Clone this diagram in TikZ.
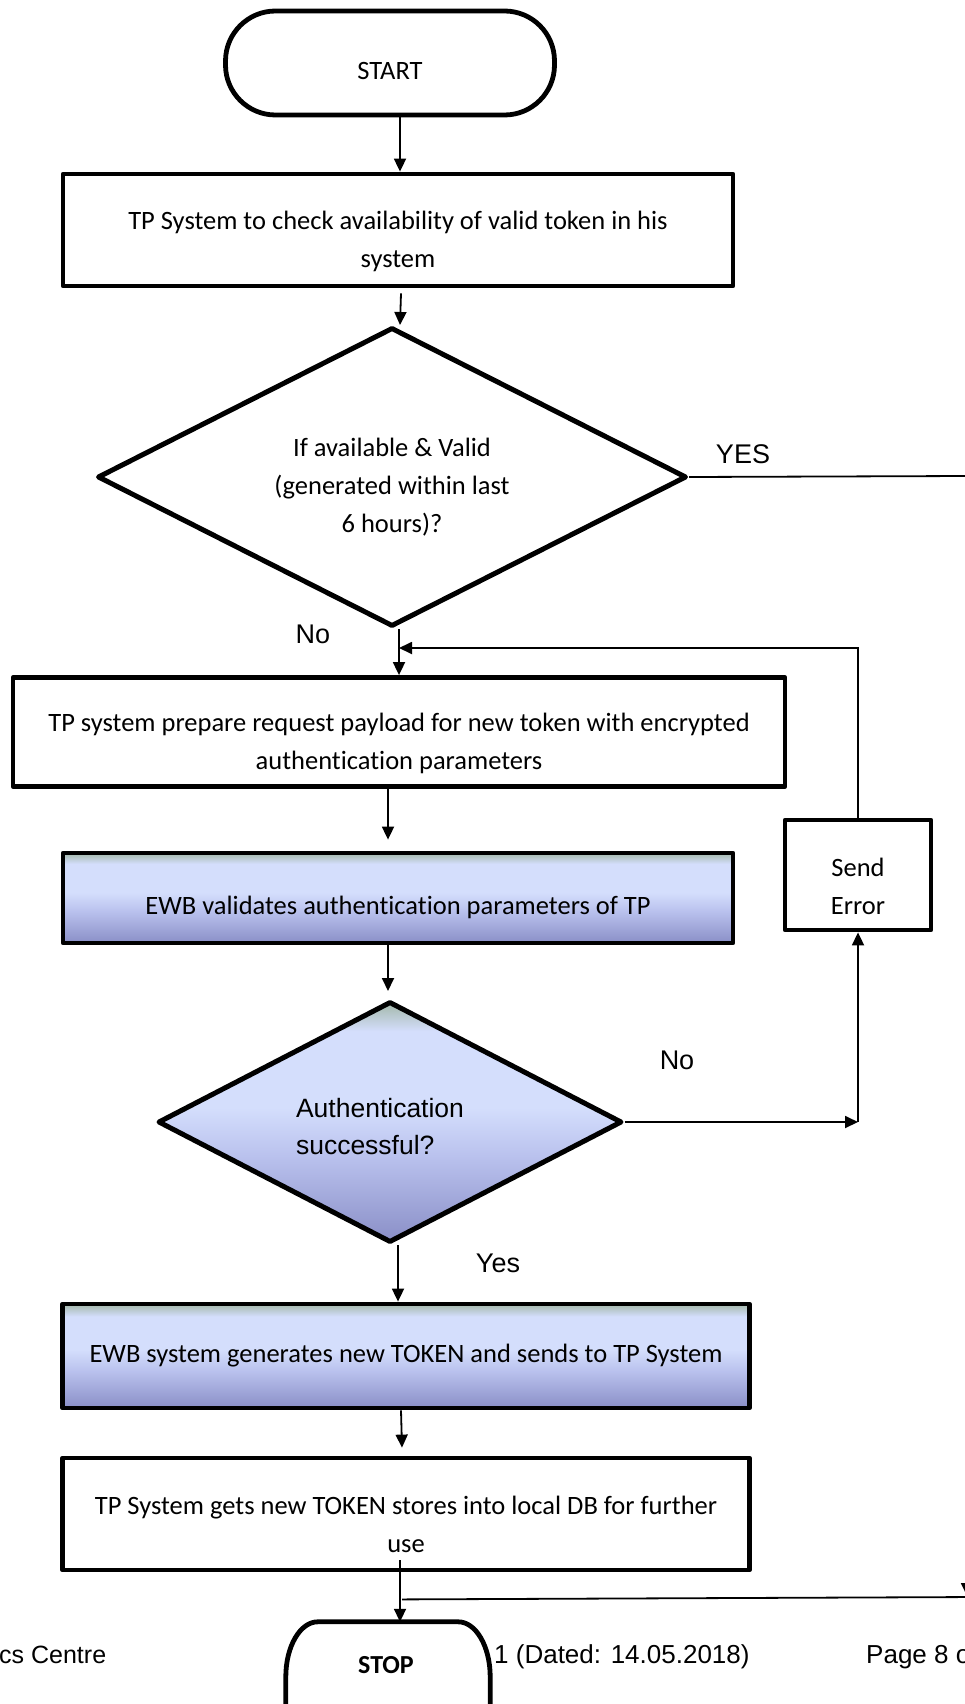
\documentclass[tikz,border=0pt]{standalone}
\usepackage{fontspec}
\setmainfont{Carlito}[Ligatures={NoCommon,NoRare}]
\newfontfamily\arialf{Liberation Sans}
\usetikzlibrary{arrows.meta,shapes.geometric,calc}
\definecolor{gtop}{RGB}{163,184,170}
\definecolor{gmid}{RGB}{212,222,252}
\definecolor{glow}{RGB}{186,194,238}
\definecolor{gbot}{RGB}{138,143,199}
\pgfdeclareverticalshading{ewbshade}{100bp}{color(0bp)=(gbot); color(25bp)=(gbot); color(43bp)=(glow); color(53bp)=(gmid); color(69bp)=(gmid); color(75bp)=(gtop); color(100bp)=(gtop)}
\tikzset{
  box/.style={draw, line width=4.8pt, line join=round, rectangle, align=center, inner sep=0pt, font=\fontsize{26.5}{38}\selectfont},
  ewb/.style={box, shade, shading=ewbshade},
  dia/.style={draw, diamond, shape aspect=2, line width=5pt, line join=round, align=center, inner sep=0pt},
  conn/.style={line width=1.8pt},
  arr/.style={conn, -{Triangle[length=13pt,width=12pt]}},
  lab/.style={font=\arialf\fontsize{27}{32}\selectfont, anchor=base, inner sep=0pt},
  foot/.style={font=\arialf\fontsize{25}{30}\selectfont, anchor=base west, inner sep=0pt},
}
\begin{document}
\begin{tikzpicture}[x=1pt,y=-1pt]
\useasboundingbox (0,0) rectangle (965,1704);
\clip (0,0) rectangle (965,1704);

% footer (behind STOP)
\node[foot] (f1) at (-1,1663) {cs Centre};
\node[foot, font=\arialf\fontsize{26}{30}\selectfont] (f2) at (494,1663) {1 (Dated: 14.05.2018)};
\node[foot, font=\arialf\fontsize{26}{30}\selectfont] (f3) at (866,1663) {Page 8 of};

% nodes
\node[box, rounded corners=50pt, minimum width=329pt, minimum height=104pt] (start) at (390,63) {\rule{0pt}{33pt}START};
\node[box, minimum width=670pt, minimum height=112pt] (b1) at (398,230) {\rule{0pt}{41pt}TP System to check availability of valid token in his\\system};
\node[dia, minimum width=589pt, minimum height=299pt, font=\fontsize{26.5}{38}\selectfont] (d1) at (392,477) {\rule{0pt}{39pt}If available \& Valid\\(generated within last\\6 hours)?};
\node[box, minimum width=772pt, minimum height=109pt] (b2) at (399,732) {\rule{0pt}{41pt}TP system prepare request payload for new token with encrypted\\authentication parameters};
\node[ewb, minimum width=670pt, minimum height=90pt] (b3) at (398,898) {\rule{0pt}{38pt}EWB validates authentication parameters of TP};
\node[box, minimum width=146pt, minimum height=110pt] (err) at (858,875) {\rule{0pt}{41pt}Send\\Error};
\node[dia, shade, shading=ewbshade, minimum width=464pt, minimum height=241pt, font=\arialf\fontsize{26.5}{37}\selectfont, align=left] (d2) at (390,1122) {\rule{0pt}{28pt}Authentication\hspace*{20pt}\\successful?};
\node[ewb, minimum width=687pt, minimum height=104pt] (b4) at (406,1356) {EWB system generates new TOKEN and sends to TP System};
\node[box, minimum width=687pt, minimum height=112pt] (b5) at (406,1514) {\rule{0pt}{40pt}TP System gets new TOKEN stores into local DB for further\\use};

% STOP terminator
\node[minimum width=204pt, minimum height=160pt, inner sep=0pt] (stop) at (388,1702) {};
\draw[line width=4.8pt, fill=white] (stop.south west) -- ($(stop.north west)+(0,55)$)
  arc[start angle=180, end angle=90, x radius=32pt, y radius=55pt]
  -- ($(stop.north east)+(-32,0)$)
  arc[start angle=90, end angle=0, x radius=32pt, y radius=55pt]
  -- (stop.south east);
\node[font=\bfseries\fontsize{26}{30}\selectfont, anchor=base, inner sep=0pt] (stoptext) at (386,1673) {STOP};

% coordinates
\coordinate (xa) at (400,0);
\coordinate (fb) at (399,648);
\coordinate (yr) at (967,476);
\coordinate (yb) at (967,1596);

% connectors
\draw[arr] (start.south -| xa) -- (b1.north -| xa);
\draw[arr] ($(b1.south)+(3,5)$) -- ($(d1.north)+(8,0)$);
\draw[arr] ($(d1.south)+(7,0)$) -- (b2.north);
\draw[arr] ($(b2.south)+(-11,0)$) -- ($(b3.north)+(-10,-11)$);
\draw[arr] ($(b3.south)+(-10,0)$) -- ($(d2.north)+(-2,-8)$);
\draw[arr] (d2.east) -- (d2.east -| err.south);
\draw[arr] (d2.east -| err.south) -- (err.south);
\draw[arr] (err.north) |- (fb);
\draw[arr] ($(d2.south)+(8,0)$) -- ($(b4.north)+(-8,0)$);
\draw[arr] ($(b4.south)+(-5,0)$) -- ($(b5.north)+(-4,-8)$);
\draw[arr] ($(b5.south)+(-6,-12)$) -- ($(stop.north)+(12,0)$);
\draw[arr] (d1.east) -- (yr) -- (yb);
\draw[conn] ($(b5.south)+(-4,27)$) -- ($(yb)+(10,1)$);

% labels
\node[lab] (yes1) at (743,463) {YES};
\node[lab] (no1) at (313,643) {No};
\node[lab] (no2) at (677,1069) {No};
\node[lab] (yes2) at (498,1272) {Yes};
\end{tikzpicture}
\end{document}
